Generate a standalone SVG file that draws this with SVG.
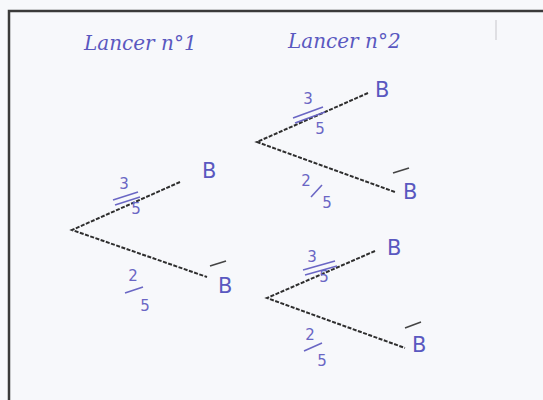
<svg xmlns="http://www.w3.org/2000/svg" width="543" height="400" viewBox="0 0 543 400">
<style>
.frame{stroke:#3a3a3a;stroke-width:2.5;fill:none}
.edge{stroke:#2e2e2e;stroke-width:2;stroke-dasharray:4 1.5;fill:none}
.lbl{font-family:"DejaVu Sans",sans-serif;font-size:21px;fill:#5a58c0}
.hd{font-family:"DejaVu Serif","Liberation Serif",serif;font-style:italic;font-size:20px;fill:#5a58c0}
.fr{font-family:"DejaVu Sans",sans-serif;font-size:15px;fill:#6a66c4;text-anchor:middle}
.bar{stroke:#6a66c4;stroke-width:1.6;fill:none}
</style>
<rect width="543" height="400" fill="#f7f8fb"/>
<path class="frame" d="M9,400 V11 H543"/>
<line x1="496" y1="20" x2="496" y2="40" stroke="#cfcfd4" stroke-width="1.2"/>
<text class="hd" x="84" y="50">Lancer n°1</text>
<text class="hd" x="288" y="48">Lancer n°2</text>
<g id="connectors">
<path class="edge" d="M180,182 L72,230 L207,277"/>
<path class="edge" d="M368,93 L257,142 L395,192"/>
<path class="edge" d="M375,251 L267,298 L405,348"/>
</g>
<g id="n1B"><text class="lbl" x="202" y="178">B</text></g>
<g id="n1Bbar"><line class="bar" x1="210" y1="266" x2="226" y2="261" style="stroke:#444"/><text class="lbl" x="218" y="293">B</text></g>
<g id="n2B"><text class="lbl" x="375" y="97">B</text></g>
<g id="n2Bbar"><line class="bar" x1="393" y1="173" x2="409" y2="168" style="stroke:#444"/><text class="lbl" x="403" y="199">B</text></g>
<g id="n3B"><text class="lbl" x="387" y="255">B</text></g>
<g id="n3Bbar"><line class="bar" x1="405" y1="328" x2="421" y2="322" style="stroke:#444"/><text class="lbl" x="412" y="352">B</text></g>
<g id="f1"><text class="fr" x="124" y="189">3</text><line class="bar" x1="113" y1="200" x2="138" y2="192"/><line class="bar" x1="115" y1="205" x2="140" y2="197"/><text class="fr" x="136" y="214">5</text></g>
<g id="f2"><text class="fr" x="133" y="281">2</text><line class="bar" x1="125" y1="293" x2="143" y2="287"/><text class="fr" x="145" y="311">5</text></g>
<g id="f3"><text class="fr" x="308" y="104">3</text><line class="bar" x1="293" y1="118" x2="323" y2="107"/><line class="bar" x1="295" y1="123" x2="325" y2="112"/><text class="fr" x="320" y="134">5</text></g>
<g id="f4"><text class="fr" x="306" y="186">2</text><line class="bar" x1="311" y1="197" x2="322" y2="185"/><text class="fr" x="327" y="208">5</text></g>
<g id="f5"><text class="fr" x="312" y="262">3</text><line class="bar" x1="303" y1="270" x2="335" y2="261"/><line class="bar" x1="305" y1="275" x2="337" y2="266"/><text class="fr" x="324" y="282">5</text></g>
<g id="f6"><text class="fr" x="310" y="340">2</text><line class="bar" x1="304" y1="351" x2="322" y2="343"/><text class="fr" x="322" y="366">5</text></g>
</svg>
